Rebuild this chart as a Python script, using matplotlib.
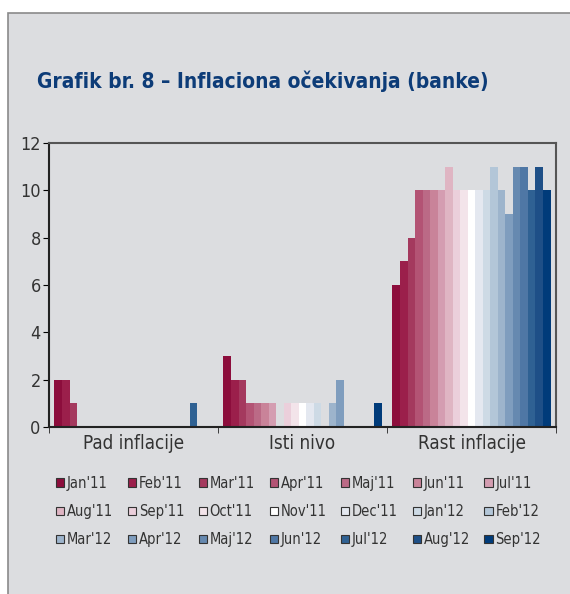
import numpy as np
import matplotlib
matplotlib.use("Agg")
import matplotlib.pyplot as plt
from matplotlib.patches import Rectangle, Patch

categories = ["Pad inflacije", "Isti nivo", "Rast inflacije"]
months = ["Jan'11", "Feb'11", "Mar'11", "Apr'11", "Maj'11", "Jun'11", "Jul'11",
          "Aug'11", "Sep'11", "Oct'11", "Nov'11", "Dec'11", "Jan'12", "Feb'12",
          "Mar'12", "Apr'12", "Maj'12", "Jun'12", "Jul'12", "Aug'12", "Sep'12"]
pad = [2, 2, 1, 0, 0, 0, 0, 0, 0, 0, 0, 0, 0, 0, 0, 0, 0, 0, 1, 0, 0]
isti = [3, 2, 2, 1, 1, 1, 1, 0, 1, 1, 1, 1, 1, 0, 1, 2, 0, 0, 0, 0, 1]
rast = [6, 7, 8, 10, 10, 10, 10, 11, 10, 10, 10, 10, 10, 11, 10, 9, 11, 11, 10, 11, 10]
colors = ["#8c0d3c", "#9b1f4b", "#a4395e", "#b35374", "#bb6a86", "#c98399", "#d49db1",
          "#dfb5c3", "#ebcfdb", "#f3e4ea", "#ffffff", "#e4e8f0", "#cddae5", "#b3c6d8",
          "#9db4cc", "#7f9dbe", "#6689b0", "#4f77a5", "#2f6193", "#1e4f87", "#003b7a"]

plt.rcParams['font.family'] = ['DejaVu Sans']
plt.rcParams['font.stretch'] = 'condensed'

bg = "#dcdde0"
fig = plt.figure(figsize=(5.7, 5.94), dpi=100)
fig.patch.set_facecolor("white")
fig.patches.append(Rectangle((8 / 570, -0.05), 1.0, 1 - 13 / 594 + 0.05,
                             transform=fig.transFigure, facecolor=bg,
                             edgecolor="#8a8a8a", linewidth=1.2, zorder=-5))

fig.text(37 / 570, 1 - 88 / 594, "Grafik br. 8 – Inflaciona očekivanja (banke)",
         fontsize=15, fontweight="bold", color="#0d3c78", va="baseline")

ax = fig.add_axes([49 / 570, 1 - 427 / 594, 507 / 570, 284 / 594])
ax.set_facecolor(bg)

data = np.array([pad, isti, rast])
n = len(months)
span = 0.935
w = span / n
x = np.arange(len(categories))
for i in range(n):
    ax.bar(x - span / 2 + (i + 0.5) * w, data[:, i], width=w, color=colors[i],
           linewidth=0, label=months[i])

ax.set_xlim(-0.5, 2.5)
ax.set_ylim(0, 12)
ax.set_yticks(range(0, 13, 2))
ax.set_xticks(x)
ax.set_xticklabels(categories, fontsize=13.5, color="#333333")
ax.set_xticks([-0.5, 0.5, 1.5, 2.5], minor=True)
ax.tick_params(axis="x", which="major", length=0, pad=5)
ax.tick_params(axis="x", which="minor", length=4, direction="out", color="#222222")
ax.tick_params(axis="y", length=4, direction="out", labelsize=13, labelcolor="#333333", pad=2)
for s in ["left", "bottom"]:
    ax.spines[s].set_color("#222222")
    ax.spines[s].set_linewidth(1.5)
for s in ["top", "right"]:
    ax.spines[s].set_color("#555555")
    ax.spines[s].set_linewidth(1.5)

handles = [Patch(facecolor=colors[i], edgecolor="#333333", linewidth=0.8) for i in range(n)]
order = [r * 7 + c for c in range(7) for r in range(3)]
leg = fig.legend([handles[i] for i in order], [months[i] for i in order],
                 ncol=7, loc="upper left", bbox_to_anchor=(56 / 570, 1 - 476 / 594),
                 frameon=False, fontsize=10.5, handlelength=0.55, handleheight=0.55,
                 handletextpad=0.2, columnspacing=1.0, labelspacing=0.9,
                 borderpad=0, borderaxespad=0)
for t in leg.get_texts():
    t.set_color("#333333")

fig.savefig("out.png", dpi=100, facecolor=fig.get_facecolor())
